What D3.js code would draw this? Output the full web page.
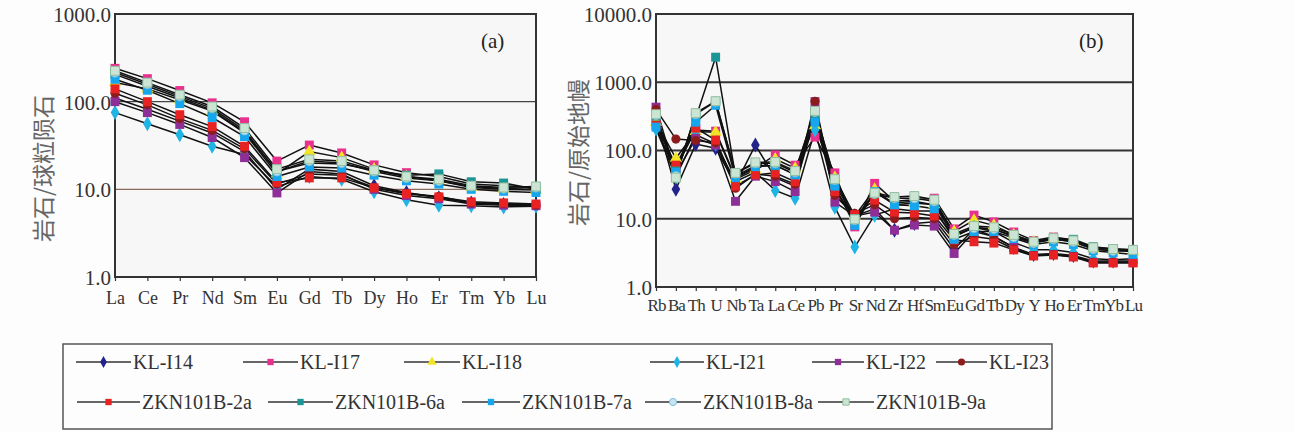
<!DOCTYPE html>
<html>
<head>
<meta charset="utf-8">
<script src="https://cdn.jsdelivr.net/npm/d3@7"></script>
<style>
  body { margin: 0; background: #fdfdfd; }
  svg { display: block; }
</style>
</head>
<body>
<svg id="chart" width="1294" height="432"></svg>
<script>
// REE elements (chondrite normalised)
var reeElements = ["La","Ce","Pr","Nd","Sm","Eu","Gd","Tb","Dy","Ho","Er","Tm","Yb","Lu"];
// trace elements (primitive mantle normalised)
var traceElements = ["Rb","Ba","Th","U","Nb","Ta","La","Ce","Pb","Pr","Sr","Nd","Zr","Hf","Sm","Eu","Gd","Tb","Dy","Y","Ho","Er","Tm","Yb","Lu"];

var sampleNames = ["KL-I14","KL-I17","KL-I18","KL-I21","KL-I22","KL-I23",
                   "ZKN101B-2a","ZKN101B-6a","ZKN101B-7a","ZKN101B-8a","ZKN101B-9a"];

var reeTicks = [1, 10, 100, 1000];
var traceTicks = [1, 10, 100, 1000, 10000];

// chondrite normalised values, one row per sample
var reeValues = [
  [110, 82, 60, 44, 27, 10, 17, 16, 11, 9.2, 8.0, 7.0, 6.7, 6.6],
  [240, 183, 134, 97, 59, 21, 32, 26, 19, 15.5, 14, 11.5, 11, 10.5],
  [165, 140, 105, 78, 44, 15, 27, 23, 17, 14, 12.5, 10.5, 10, 9.8],
  [75, 56, 42, 31, 25, 10.7, 14, 13, 9.4, 7.6, 6.6, 6.5, 6.3, 6.4],
  [100, 75, 55, 39, 23, 9.1, 16, 15, 10, 8.5, 7.8, 6.8, 6.6, 6.5],
  [125, 92, 64, 47, 29, 11.5, 15, 14.5, 10.5, 9.0, 8.3, 7.0, 6.9, 6.6],
  [140, 100, 71, 52, 31, 12, 13.5, 13.5, 10.4, 8.9, 8.2, 7.2, 7.0, 6.8],
  [205, 150, 110, 80, 45, 16, 20, 19.5, 16.5, 14.5, 15, 12.2, 11.8, 10],
  [180, 135, 95, 66, 40, 14, 18, 17.5, 14.5, 12.5, 11.5, 10, 9.5, 9.2],
  [215, 158, 115, 84, 47, 16, 21, 20, 16, 13.5, 12.5, 10.8, 10.2, 10.5],
  [225, 165, 120, 88, 50, 17, 22, 21, 16.5, 14, 13, 11, 10.5, 10.8]
];

// primitive mantle normalised values, one row per sample
var traceValues = [
  [300, 27, 124, 108, 32, 120, 40, 30, 300, 22, 11, 14, 6.8, 8.5, 9, 3.6, 7, 5.5, 3.8, 3.0, 3.1, 2.9, 2.4, 2.4, 2.4],
  [280, 55, 200, 192, 40, 55, 86, 61, 157, 47, 7.6, 33, 18, 19, 20, 7.1, 11.3, 9, 6.4, 4.8, 5.4, 4.9, 3.8, 3.6, 3.5],
  [260, 77, 190, 185, 38, 52, 75, 55, 230, 40, 11, 27, 16, 17, 16, 6.5, 9.5, 8, 5.8, 4.6, 5.1, 4.6, 3.6, 3.4, 3.3],
  [206, 41, 170, 125, 35, 48, 26, 20, 199, 14.8, 3.85, 11.3, 14, 13, 13, 5.5, 7.5, 6.5, 4.5, 3.5, 3.5, 3.2, 2.6, 2.5, 2.6],
  [432, 45, 151, 120, 18, 42, 35, 25, 520, 17.5, 11, 12.5, 6.8, 8.1, 7.8, 3.1, 6.5, 5.5, 3.8, 2.9, 3.0, 2.8, 2.3, 2.3, 2.3],
  [400, 147, 140, 130, 28, 45, 42, 32, 528, 22, 12, 16, 10, 10.5, 10, 4.2, 5.5, 5.0, 3.6, 2.9, 3.0, 2.8, 2.3, 2.3, 2.3],
  [235, 61, 213, 142, 30, 44, 47, 35, 340, 25, 11.5, 18.8, 12.5, 12.1, 11, 4.9, 4.6, 4.4, 3.5, 2.85, 2.94, 2.75, 2.25, 2.25, 2.25],
  [320, 50, 300, 2330, 42, 60, 60, 45, 300, 32, 10, 24, 17, 18, 16, 5.5, 7.5, 7, 5.6, 4.5, 5.0, 5.0, 3.9, 3.6, 3.4],
  [220, 48, 260, 460, 40, 58, 61, 44, 260, 30, 8, 25, 16, 15.5, 14, 5.0, 6.5, 6.5, 5.2, 4.2, 4.6, 4.2, 3.4, 3.2, 3.0],
  [330, 42, 340, 520, 46, 65, 65, 48, 365, 37, 9.6, 23, 20, 20, 18, 5.8, 7.3, 7.1, 5.4, 4.4, 5.0, 4.6, 3.6, 3.4, 3.5],
  [340, 40, 353, 528, 47, 67, 68, 50, 380, 38, 9.8, 24, 20.8, 21.5, 19, 6.0, 7.8, 7.5, 5.8, 4.6, 5.2, 4.8, 3.8, 3.6, 3.5]
];

var markerStyles = [
  {shape: d3.symbolDiamond,  fill: "#23238c", stroke: "none"},
  {shape: d3.symbolSquare,   fill: "#e8308e", stroke: "none"},
  {shape: d3.symbolTriangle, fill: "#f2e424", stroke: "none"},
  {shape: d3.symbolDiamond,  fill: "#1fb4e4", stroke: "none"},
  {shape: d3.symbolSquare,   fill: "#8e2f98", stroke: "none"},
  {shape: d3.symbolCircle,   fill: "#8c1c1c", stroke: "none"},
  {shape: d3.symbolSquare,   fill: "#e82222", stroke: "none"},
  {shape: d3.symbolSquare,   fill: "#1a9696", stroke: "none"},
  {shape: d3.symbolSquare,   fill: "#15a6ee", stroke: "none"},
  {shape: d3.symbolCircle,   fill: "#c6e4f2", stroke: "#7fbfd8"},
  {shape: d3.symbolSquare,   fill: "#cce4d4", stroke: "#8fbf9f"}
];

var svg = d3.select("#chart");
var latinFont = "'Liberation Serif', 'DejaVu Serif', serif";
var cjkFont = "'Noto Sans CJK SC', sans-serif";

function drawPanel(opts){
    var g = svg.append("g");
    var x = d3.scalePoint().domain(opts.categories).range([opts.left, opts.right]).padding(0);
    var y = d3.scaleLog().domain([1, opts.ticks[opts.ticks.length-1]]).range([opts.bottom, opts.top]);

    g.append("rect")
        .attr("x", opts.left).attr("y", opts.top)
        .attr("width", opts.right - opts.left).attr("height", opts.bottom - opts.top)
        .style("fill", "#f7f7f7");

    // decade grid lines
    g.selectAll(".grid").data(opts.ticks.slice(1, -1)).enter().append("line")
        .attr("x1", opts.left).attr("x2", opts.right)
        .attr("y1", function(d){return y(d)}).attr("y2", function(d){return y(d)})
        .style("stroke", function(d){return opts.gridColor(d)})
        .style("stroke-width", opts.gridWidth);

    var yAxis = d3.axisLeft(y).tickValues(opts.ticks).tickSize(0).tickPadding(4)
        .tickFormat(function(d){return d3.format(".1f")(d)});
    var ya = g.append("g").attr("transform", "translate(" + opts.left + ",0)").call(yAxis);
    ya.select(".domain").remove();
    ya.selectAll("text")
        .style("font-family", latinFont).style("font-size", "21px").style("fill", "#333")
        .attr("dy", "0.35em");

    var xAxis = d3.axisBottom(x).tickSize(5).tickPadding(opts.xPad);
    var xa = g.append("g").attr("transform", "translate(0," + (opts.bottom - 1) + ")").call(xAxis);
    xa.select(".domain").remove();
    xa.selectAll("line").style("stroke", "#333").style("stroke-width", 1.2);
    xa.selectAll("text")
        .style("font-family", latinFont).style("font-size", opts.xFont).style("fill", "#333")
        .attr("letter-spacing", opts.xSpacing);

    // frame
    g.append("rect")
        .attr("x", opts.left).attr("y", opts.top)
        .attr("width", opts.right - opts.left).attr("height", opts.bottom - opts.top)
        .style("fill", "none").style("stroke", "#333").style("stroke-width", 2);

    var line = d3.line()
        .x(function(d, i){return x(opts.categories[i])})
        .y(function(d){return y(d)});

    g.selectAll(".series").data(opts.values).enter().append("path")
        .attr("d", function(d){return line(d)})
        .style("fill", "none").style("stroke", "#111").style("stroke-width", 1.5);

    opts.values.forEach(function(row, s){
        var st = markerStyles[s];
        g.selectAll(".m" + s).data(row).enter().append("path")
            .attr("transform", function(d, i){return "translate(" + x(opts.categories[i]) + "," + y(d) + ")"})
            .attr("d", d3.symbol().type(st.shape).size(st.shape === d3.symbolSquare ? 80 : 65))
            .style("fill", st.fill)
            .style("stroke", st.stroke).style("stroke-width", 1);
    });

    g.append("text")
        .attr("transform", "translate(" + opts.titleX + "," + ((opts.top + opts.bottom)/2 + opts.titleShift) + ") rotate(-90)")
        .attr("text-anchor", "middle").attr("dy", "0.35em")
        .style("font-family", cjkFont).style("font-size", "23px").style("fill", "#666")
        .text(opts.title);

    g.append("text")
        .attr("x", opts.labelX).attr("y", opts.top + 34)
        .style("font-family", latinFont).style("font-size", "21px").style("fill", "#222")
        .text(opts.label);
}

drawPanel({
    categories: reeElements, values: reeValues, ticks: reeTicks,
    left: 115, right: 536, top: 14, bottom: 277,
    gridColor: function(d){return d === 10 ? "#8a6a5a" : "#444"},
    gridWidth: 1.3, xFont: "18px", xSpacing: 0, xPad: 10,
    title: "岩石/球粒陨石", titleX: 44, titleShift: 23,
    label: "(a)", labelX: 481
});

drawPanel({
    categories: traceElements, values: traceValues, ticks: traceTicks,
    left: 656, right: 1133, top: 14, bottom: 287,
    gridColor: function(d){return "#333"},
    gridWidth: 1.8, xFont: "17px", xSpacing: -1, xPad: 8,
    title: "岩石/原始地幔", titleX: 579, titleShift: 2,
    label: "(b)", labelX: 1079
});

// legend
var legendRows = [
  {y: 362, items: [0, 1, 2, 3, 4, 5], lineX: [76, 243, 404, 650, 812, 936], lineW: [55, 55, 56, 54, 52, 51]},
  {y: 402, items: [6, 7, 8, 9, 10], lineX: [77, 268, 462, 645, 818], lineW: [63, 65, 58, 56, 56]}
];

var legend = svg.append("g");
legend.append("rect")
    .attr("x", 63).attr("y", 344).attr("width", 989).attr("height", 85)
    .style("fill", "#fdfdfd").style("stroke", "#555").style("stroke-width", 1.5);

legendRows.forEach(function(row){
    row.items.forEach(function(s, k){
        var x0 = row.lineX[k], w = row.lineW[k];
        var st = markerStyles[s];
        legend.append("line")
            .attr("x1", x0).attr("x2", x0 + w).attr("y1", row.y).attr("y2", row.y)
            .style("stroke", "#333").style("stroke-width", 1.5);
        legend.append("path")
            .attr("transform", "translate(" + (x0 + w/2) + "," + row.y + ")")
            .attr("d", d3.symbol().type(st.shape).size(40))
            .style("fill", st.fill).style("stroke", st.stroke);
        legend.append("text")
            .attr("x", x0 + w + 2).attr("y", row.y).attr("dy", "0.35em")
            .style("font-family", latinFont).style("font-size", "20px").style("fill", "#333")
            .text(sampleNames[s]);
    });
});
</script>
</body>
</html>
